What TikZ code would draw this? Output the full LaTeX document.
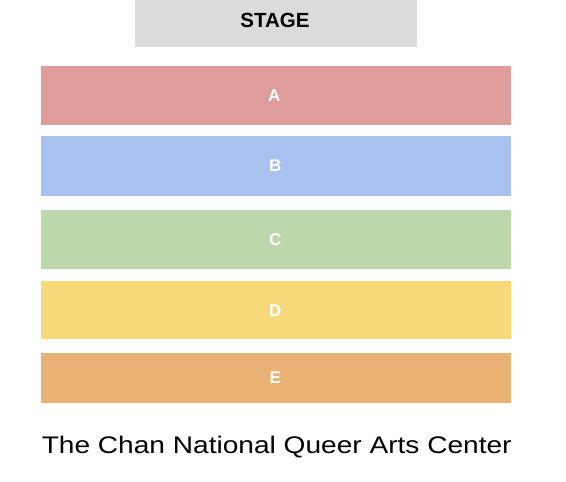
\documentclass[tikz,border=0pt]{standalone}
\usepackage{fontspec}
\usepackage{graphicx}
\setmainfont{Liberation Sans}
\definecolor{stagegray}{HTML}{DBDBDB}
\definecolor{rowA}{HTML}{DE9C9A}
\definecolor{rowB}{HTML}{A9C1EE}
\definecolor{rowC}{HTML}{BDD7AD}
\definecolor{rowD}{HTML}{F7D979}
\definecolor{rowE}{HTML}{E9B274}
\tikzset{
  rowbox/.style={draw=none, inner sep=0pt, minimum width=470pt, anchor=north west},
  rowlabel/.style={text=white, font=\fontsize{17}{18}\selectfont\bfseries, inner sep=0pt},
}
\begin{document}
\begin{tikzpicture}[x=1pt,y=-1pt]
\useasboundingbox (0,0) rectangle (566,482);
\node[fill=stagegray, inner sep=0pt, minimum width=282pt, minimum height=47pt, anchor=north west] (stage) at (135,0) {};
\node[font=\fontsize{20.5}{22}\selectfont\bfseries, inner sep=0pt] (stagetxt) at (275,20.3) {STAGE};
\node[rowbox, fill=rowA, minimum height=58.3pt] (A) at (41,66) {};
\node[rowbox, fill=rowB, minimum height=59.3pt] (B) at (41,136) {};
\node[rowbox, fill=rowC, minimum height=59.7pt] (C) at (41,209.3) {};
\node[rowbox, fill=rowD, minimum height=58pt] (D) at (41,281) {};
\node[rowbox, fill=rowE, minimum height=50pt] (E) at (41,352.3) {};
\node[rowlabel] (Alab) at ([xshift=-2pt]A.center) {A};
\node[rowlabel] (Blab) at ([xshift=-1pt]B.center) {B};
\node[rowlabel] (Clab) at ([xshift=-1pt]C.center) {C};
\node[rowlabel] (Dlab) at ([xshift=-1pt]D.center) {D};
\node[rowlabel] (Elab) at ([xshift=-1pt]E.center) {E};
\node[anchor=base, inner sep=0pt, font=\fontsize{24}{26}\selectfont] (title) at (276.7,453) {\scalebox{1.17}[1]{The Chan National Queer Arts Center}};
\end{tikzpicture}
\end{document}
